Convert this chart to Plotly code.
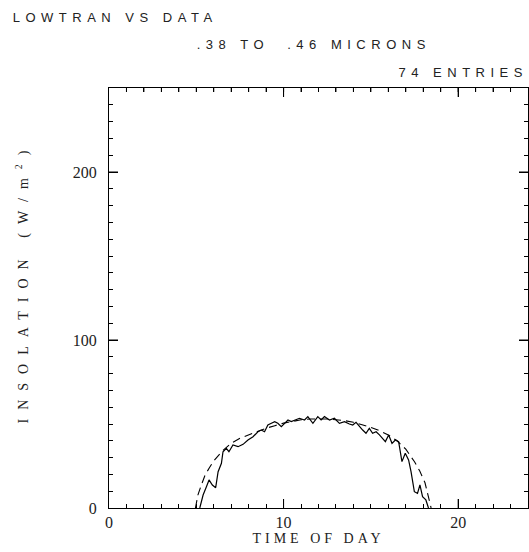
import plotly.graph_objects as go

# Measured data (solid)
data_hour = [5.2, 5.39, 5.58, 5.73, 5.92, 6.11, 6.25, 6.44, 6.53, 6.72, 6.87, 7.1, 7.39, 7.68,
             7.96, 8.25, 8.53, 8.72, 8.91, 9.1, 9.3, 9.49, 9.67, 9.87, 10.06, 10.25, 10.44,
             10.63, 10.91, 11.2, 11.39, 11.68, 11.96, 12.15, 12.34, 12.63, 12.91, 13.2, 13.49,
             13.77, 13.96, 14.15, 14.34, 14.53, 14.72, 14.91, 15.1, 15.3, 15.49, 15.67, 15.83,
             16.02, 16.21, 16.4, 16.59, 16.78, 16.97, 17.16, 17.3, 17.49, 17.67, 17.81, 17.96,
             18.15, 18.3]
data_insol = [0, 7.7, 12.7, 16.7, 13.7, 12.1, 21.6, 26.6, 33.5, 35.5, 33.5, 37.5, 36.5, 37.9,
              40.5, 42.4, 45.4, 46.4, 45.4, 49.4, 50.4, 51.4, 50.4, 48.4, 50.4, 52.4, 51.4,
              52.4, 53.4, 52.4, 54.4, 50.4, 54.4, 52.4, 54.4, 52.4, 53.4, 50.4, 51.4,
              50.0, 49.4, 51.0, 48.4, 46.4, 44.5, 47.4, 44.5, 45.4, 43.5, 41.5, 39.5,
              43.5, 38.5, 40.5, 39.5, 27.6, 32.6, 28.6, 21.6, 9.7, 8.7, 13.7, 6.7,
              4.8, 0]

# LOWTRAN model (dashed)
model_hour = [4.95, 5.1, 5.3, 5.5, 5.75, 6.0, 6.5, 7.0, 7.5, 8.0, 8.5, 9.0, 9.5, 10.0, 10.5,
              11.0, 11.5, 12.0, 12.5, 13.0, 13.5, 14.0, 14.5, 15.0, 15.5, 16.0, 16.5, 17.0,
              17.5, 17.8, 18.1, 18.3, 18.45]
model_insol = [0, 8, 14, 19.5, 24, 28, 34, 38.5, 41.5, 43.5, 45.5, 47.5, 49, 50.5, 51.5,
               52.5, 53, 53, 53, 52.5, 52, 51, 49.5, 48, 46, 43.5, 40, 35,
               27.5, 22, 15, 7, 0]

x_range = [0, 24]
y_range = [0, 250]
x_dtick = 10
y_dtick = 100
x_minor_dtick = 1
y_minor_dtick = 10

serif = "Liberation Serif"
sans = "Liberation Sans"
black = "#000000"

fig = go.Figure()
fig.add_trace(go.Scatter(x=model_hour, y=model_insol, mode="lines",
                         line=dict(color="black", width=1.1, dash="8px,5px"),
                         showlegend=False))
fig.add_trace(go.Scatter(x=data_hour, y=data_insol, mode="lines",
                         line=dict(color="black", width=1.2),
                         showlegend=False))

axis_common = dict(showgrid=False, zeroline=False, showline=True, linecolor="black",
                   linewidth=1, mirror="ticks", ticks="inside", tickcolor=black,
                   tickwidth=1, ticklen=9, tickmode="linear", tick0=0,
                   tickfont=dict(family=serif, size=16, color="#222"))

W, H = 529, 552
ML, MR, MT, MB = 109, 1, 88, 44
pw, ph = W - ML - MR, H - MT - MB

fig.update_layout(
    template="none", width=W, height=H,
    margin=dict(l=ML, r=MR, t=MT, b=MB),
    paper_bgcolor="white", plot_bgcolor="white",
    xaxis=dict(range=x_range, dtick=x_dtick,
               minor=dict(dtick=x_minor_dtick, ticklen=4, ticks="inside", tickcolor=black),
               title=dict(text="TIME OF DAY", font=dict(family=serif, size=14, color="#222"),
                          standoff=2),
               **axis_common),
    yaxis=dict(range=y_range, dtick=y_dtick, ticklabelstandoff=8,
               minor=dict(dtick=y_minor_dtick, ticklen=4, ticks="inside", tickcolor=black),
               **axis_common),
)

# Tick marks drawn as shapes, at the axes' own tick values
tick_line = dict(color=black, width=1)
major_x = [v for v in range(x_range[0], x_range[1] + 1, x_dtick)][1:]
major_y = [v for v in range(y_range[0], y_range[1] + 1, y_dtick)][1:]
minor_x = [v for v in range(x_range[0] + x_minor_dtick, x_range[1], x_minor_dtick)]
lx, ly = 9 / ph, 9 / pw
sx = 4 / ph
for v in major_x:
    fig.add_shape(type="line", xref="x", yref="y domain", x0=v, x1=v, y0=0, y1=lx, line=tick_line)
    fig.add_shape(type="line", xref="x", yref="y domain", x0=v, x1=v, y0=1, y1=1 - lx, line=tick_line)
for v in minor_x:
    fig.add_shape(type="line", xref="x", yref="y domain", x0=v, x1=v, y0=1, y1=1 - sx, line=tick_line)
for v in major_y:
    fig.add_shape(type="line", xref="x domain", yref="y", x0=0, x1=ly, y0=v, y1=v, line=tick_line)
    fig.add_shape(type="line", xref="x domain", yref="y", x0=1, x1=1 - ly, y0=v, y1=v, line=tick_line)

# Header texts and y title, positioned by their centre in figure pixels
anns = [
    dict(text="LOWTRAN VS DATA", x=115, y=18, angle=0, size=13),
    dict(text=".38 TO  .46 MICRONS", x=314, y=45, angle=0, size=13),
    dict(text="74 ENTRIES", x=463, y=73, angle=0, size=13),
    dict(text="INSOLATION (W/m<sup>2</sup>)", x=22, y=283, angle=-90, size=14),
]
for a in anns:
    fig.add_annotation(text=a["text"], xref="paper", yref="paper",
                       x=(a["x"] - ML) / pw, y=(H - MB - a["y"]) / ph,
                       yanchor="middle", xanchor="center", showarrow=False,
                       textangle=a["angle"],
                       font=dict(family=serif if a["angle"] else sans, size=a["size"],
                                 color="#222"))

post = """
var gd = document.getElementById('{plot_id}');
var at = gd.querySelectorAll('.annotation-text');
at.forEach(function(e, i){ e.style.letterSpacing = (i === 3 ? '9px' : '5.5px'); });
gd.querySelectorAll('.xtitle').forEach(function(e){ e.style.letterSpacing = '4px'; });
"""
fig.write_html("out.html", post_script=post)
